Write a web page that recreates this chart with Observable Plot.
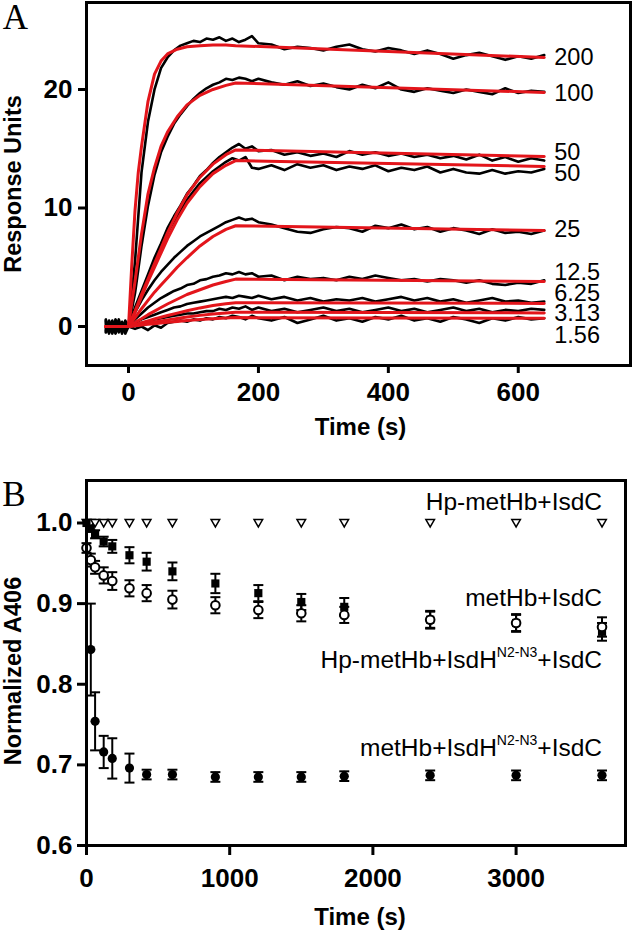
<!DOCTYPE html>
<html><head><meta charset="utf-8">
<script src="https://cdn.jsdelivr.net/npm/d3@7"></script>
<script src="https://cdn.jsdelivr.net/npm/@observablehq/plot@0.6"></script>
<style>
html,body{margin:0;padding:0;background:#fff;}
#chart{width:635px;}
#chart svg{display:block;}
</style></head><body><div id="chart"></div>
<script>
// ---------- Panel A : SPR sensorgrams ----------
const concLabels = ["200","100","50","50","25","12.5","6.25","3.13","1.56"];

const dataTime = [-35,-30,-25,-20,-15,-10,-5,0, 10,20,30,40,50,60,70,80,90,100, 110,120,130,140,150,160,170,180,190,200, 220,240,260,280,300,320,340,360,380,400, 420,440,460,480,500,520,540,560,580,600, 620,640];

const trace200 = [0.5,-0.4,0.3,-0.6,0.2,-0.3,0.4,0.0, 5.5,13.0,17.3,20.0,21.8,22.7,23.3,23.7,23.9,24.1, 24.0,24.3,24.2,24.4,24.1,24.3,24.0,24.2,24.5,23.9, 23.8,23.4,23.6,23.5,23.3,23.6,23.8,23.4,23.2,23.5, 23.3,23.0,23.3,23.0,22.6,22.9,23.1,22.8,22.5,22.8, 22.6,22.9];
const trace100 = [-0.3,0.5,-0.2,0.4,-0.5,0.3,-0.2,0.0, 2.8,6.8,10.2,12.8,14.7,16.0,17.1,17.9,18.6,19.2, 19.7,20.1,20.4,20.6,20.9,20.8,21.0,20.9,20.7,20.9, 20.6,20.4,20.7,20.3,20.5,20.2,20.0,20.4,20.1,20.6, 20.0,19.8,20.1,19.9,19.7,20.0,19.8,19.6,20.1,19.7, 19.9,19.8];
const trace50a = [0.2,-0.5,0.4,-0.3,0.6,-0.4,0.2,0.0, 1.6,3.0,4.4,5.8,7.0,8.3,9.3,10.2,11.2,11.9, 12.7,13.2,13.8,14.3,14.7,15.1,15.4,15.0,15.2,14.8, 14.9,14.5,14.7,14.4,14.6,14.3,14.8,14.5,14.7,14.4, 14.6,14.3,14.5,14.2,14.4,14.1,14.5,14.0,14.3,13.9, 14.2,14.0];
const trace50b = [-0.4,0.3,-0.6,0.5,-0.2,0.4,-0.3,0.0, 1.4,2.8,4.2,5.5,6.7,7.9,8.9,9.8,10.7,11.4, 12.1,12.6,13.1,13.5,13.9,14.2,14.0,14.3,13.4,13.3, 13.6,13.2,13.7,13.4,13.6,13.2,13.5,13.3,13.6,13.1, 13.4,13.2,13.5,13.0,13.3,13.0,12.9,13.2,12.9,13.1, 13.0,13.3];
const trace25 = [0.6,-0.5,0.2,-0.3,0.5,-0.6,0.3,0.0, 1.2,2.2,3.1,3.9,4.6,5.2,5.8,6.3,6.8,7.2, 7.6,7.9,8.2,8.5,8.8,9.0,9.2,9.0,9.1,8.8, 8.6,8.3,8.0,7.9,8.2,8.4,8.3,8.0,8.5,8.3, 8.6,8.2,8.4,8.0,8.3,8.1,7.8,8.2,7.9,8.0, 7.8,8.1];
const trace12 = [-0.2,0.4,-0.5,0.3,-0.4,0.2,-0.6,0.0, 0.6,1.1,1.6,2.0,2.4,2.7,3.0,3.2,3.5,3.6, 3.9,4.0,4.2,4.3,4.5,4.4,4.6,4.4,4.5,4.2, 4.3,3.9,4.2,4.0,4.1,3.9,4.2,4.0,4.3,4.1, 3.9,4.0,3.8,4.0,3.9,3.7,3.9,3.6,3.5,3.7, 3.6,3.9];
const trace6 = [0.3,-0.6,0.4,-0.2,0.2,-0.5,0.5,0.0, 0.3,0.6,0.8,1.0,1.2,1.4,1.6,1.7,1.9,2.0, 2.1,2.2,2.3,2.4,2.5,2.4,2.6,2.5,2.4,2.6, 2.3,2.5,2.2,2.4,2.1,2.3,2.2,2.4,2.1,2.3, 2.5,2.2,2.4,2.1,2.3,2.0,2.2,2.4,2.1,2.2, 2.0,2.1];
const trace3 = [-0.5,0.2,-0.3,0.6,-0.4,0.1,-0.2,0.0, 0.1,0.3,0.4,0.6,0.7,0.8,0.9,1.0,1.1,1.1, 1.2,1.3,1.3,1.5,1.4,1.6,1.5,1.7,1.4,1.6, 1.3,1.5,1.2,1.4,1.6,1.3,1.5,1.2,1.4,1.6, 1.3,1.5,1.2,1.4,1.6,1.3,1.5,1.2,1.4,1.3, 1.5,1.4];
const trace1 = [0.4,-0.3,0.5,-0.5,0.3,-0.2,0.4,0.0, -0.2,0.0,-0.3,0.1,-0.1,0.3,0.4,0.5,0.4,0.6, 0.5,0.7,0.6,0.8,0.7,0.9,0.8,0.6,0.9,0.7, 0.5,0.8,0.3,0.6,0.9,0.5,0.7,0.4,0.8,0.6, 0.9,0.5,0.7,0.4,0.8,0.6,0.3,0.7,0.5,0.8, 0.6,0.7];

const fitTime = [-35, 0, 5, 10, 15, 20, 30, 40, 50, 60, 75, 90, 110, 130, 150, 165, 640];
const fit200 = [0, 0, 5.2, 9.8, 13.0, 15.2, 19.0, 21.3, 22.4, 23.0, 23.4, 23.6, 23.7, 23.75, 23.75, 23.7, 22.7];
const fit100 = [0, 0, 2.0, 3.8, 5.8, 7.8, 11.2, 13.4, 15.2, 16.4, 17.7, 18.7, 19.5, 20.0, 20.35, 20.55, 19.75];
const fit50a = [0, 0, 0.65, 1.3, 2.0, 2.7, 4.0, 5.3, 6.6, 7.9, 9.6, 11.1, 12.6, 13.7, 14.5, 14.9, 14.35];
const fit50b = [0, 0, 0.6, 1.2, 1.85, 2.5, 3.8, 5.0, 6.2, 7.4, 9.0, 10.4, 11.8, 12.9, 13.6, 14.0, 13.5];
const fit25 = [0, 0, 0.37, 0.75, 1.12, 1.5, 2.2, 2.9, 3.5, 4.1, 5.0, 5.8, 6.8, 7.6, 8.2, 8.5, 8.1];
const fit12 = [0, 0, 0.17, 0.33, 0.5, 0.66, 1.0, 1.3, 1.6, 1.9, 2.3, 2.7, 3.1, 3.5, 3.8, 4.0, 3.8];
const fit6 = [0, 0, 0.08, 0.16, 0.24, 0.32, 0.48, 0.63, 0.78, 0.93, 1.13, 1.33, 1.57, 1.77, 1.92, 2.0, 1.95];
const fit3 = [0, 0, 0.05, 0.1, 0.15, 0.19, 0.29, 0.38, 0.47, 0.56, 0.68, 0.8, 0.94, 1.06, 1.15, 1.2, 1.15];
const fit1 = [0, 0, 0.03, 0.06, 0.09, 0.12, 0.18, 0.24, 0.29, 0.35, 0.43, 0.5, 0.59, 0.66, 0.72, 0.75, 0.7];

const xTicksA = [0, 200, 400, 600];
const yTicksA = [0, 10, 20];

// ---------- Panel B : normalized A406 ----------
const timesB = [0, 30, 60, 120, 180, 300, 420, 600, 900, 1200, 1500, 1800, 2400, 3000, 3600];
const hpMetHbIsdC = [1, 1, 1, 1, 1, 1, 1, 1, 1, 1, 1, 1, 1, 1, 1];
const metHbIsdC = [1.0, 0.993, 0.986, 0.977, 0.971, 0.960, 0.952, 0.940, 0.925, 0.913, 0.902, 0.896, 0.880, 0.876, 0.865];
const metHbIsdCErr = [0, 0.004, 0.005, 0.006, 0.008, 0.010, 0.011, 0.011, 0.012, 0.010, 0.010, 0.011, 0.011, 0.011, 0.011];
const hpMetHbIsdHIsdC = [0.969, 0.954, 0.945, 0.935, 0.928, 0.919, 0.913, 0.905, 0.898, 0.892, 0.888, 0.886, 0.880, 0.876, 0.871];
const hpMetHbIsdHIsdCErr = [0.006, 0.008, 0.008, 0.010, 0.011, 0.010, 0.010, 0.011, 0.010, 0.010, 0.010, 0.010, 0.010, 0.010, 0.012];
const metHbIsdHIsdC = [null, 0.843, 0.754, 0.716, 0.708, 0.696, 0.688, 0.688, 0.685, 0.685, 0.685, 0.686, 0.687, 0.687, 0.687];
const metHbIsdHIsdCErr = [null, 0.057, 0.036, 0.020, 0.025, 0.018, 0.006, 0.006, 0.006, 0.006, 0.006, 0.006, 0.006, 0.006, 0.006];
const seriesNamesB = ["Hp-metHb+IsdC", "metHb+IsdC", "Hp-metHb+IsdH^{N2-N3}+IsdC", "metHb+IsdH^{N2-N3}+IsdC"];
const xTicksB = [0, 1000, 2000, 3000];
const yTicksB = [0.6, 0.7, 0.8, 0.9, 1.0];

// ---------- layout / style ----------
const labelNudgeA = [0, 1, -4, 7, -1, -9, -10, 1, 17];   // px offsets of end labels
const labelNudgeB = [-20.5, -34, 33.5, -27];               // px offsets of annotations
const RED = "#e3151b";
const SANS = "'Liberation Sans', Arial, Helvetica, sans-serif";
const SERIF = "'Liberation Serif', 'Times New Roman', serif";

const traceSeries = [trace200, trace100, trace50a, trace50b, trace25, trace12, trace6, trace3, trace1];
const fitSeries = [fit200, fit100, fit50a, fit50b, fit25, fit12, fit6, fit3, fit1];

const traceRows = traceSeries.flatMap((vals, i) => dataTime.map((t, j) => ({id: i, t, v: vals[j]})));
const fitRows = fitSeries.flatMap((vals, i) => fitTime.map((t, j) => ({id: i, t, v: vals[j]})));
const endRows = fitSeries.map((vals, i) => ({t: fitTime[fitTime.length - 1], v: vals[vals.length - 1], label: concLabels[i]}));

const centered = {textAnchor: "middle", lineAnchor: "middle"};

const chartA = Plot.plot({
  width: 635, height: 440,
  marginTop: 2, marginBottom: 75, marginLeft: 86, marginRight: 5,
  style: {fontFamily: SANS, fontSize: "26px", fontWeight: "bold", color: "black", background: "white", overflow: "visible"},
  x: {domain: [-64.7, 772.8]},
  y: {domain: [-3.29, 27.34]},
  marks: [
    Plot.line(traceRows, {x: "t", y: "v", z: "id", stroke: "black", strokeWidth: 2.6, strokeLinejoin: "round"}),
    Plot.line(fitRows, {x: "t", y: "v", z: "id", stroke: RED, strokeWidth: 3}),
    ...endRows.map((r, i) => Plot.text([r], {x: "t", y: "v", text: "label", dx: 10, dy: labelNudgeA[i], textAnchor: "start", lineAnchor: "middle", fontSize: 23.5, fontWeight: "normal"})),
    Plot.frame({stroke: "black", strokeWidth: 3}),
    Plot.axisX({ticks: xTicksA, tickFormat: d => String(d), tickSize: 8, tickPadding: 9, strokeWidth: 3, label: null, fontSize: 26, fontWeight: "bold"}),
    Plot.axisY({ticks: yTicksA, tickFormat: d => String(d), tickSize: 8, tickPadding: 6, strokeWidth: 3, label: null, fontSize: 26, fontWeight: "bold"}),
    Plot.text(["Response Units"], {text: d => d, frameAnchor: "left", ...centered, rotate: -90, dx: -73, fontSize: 23.5, fontWeight: "bold"}),
    Plot.text(["Time (s)"], {text: d => d, frameAnchor: "bottom", ...centered, dx: 2, dy: 62, fontSize: 24, fontWeight: "bold"}),
    Plot.text(["A"], {text: d => d, frameAnchor: "top-left", ...centered, dx: -71, dy: 15, fontFamily: SERIF, fontSize: 35, fontWeight: "normal"})
  ]
});

// Panel B rows
const rowsTri = timesB.map((t, j) => ({t, v: hpMetHbIsdC[j], e: 0}));
const rowsSq = timesB.map((t, j) => ({t, v: metHbIsdC[j], e: metHbIsdCErr[j]}));
const rowsOpen = timesB.map((t, j) => ({t, v: hpMetHbIsdHIsdC[j], e: hpMetHbIsdHIsdCErr[j]}));
const rowsFill = timesB.map((t, j) => ({t, v: metHbIsdHIsdC[j], e: metHbIsdHIsdCErr[j]})).filter(d => d.v != null);
const errRows = [...rowsSq, ...rowsOpen, ...rowsFill].filter(d => d.e > 0);
const lastOf = arr => arr[arr.length - 1];
const annoRows = [lastOf(rowsTri), lastOf(rowsSq), lastOf(rowsOpen), lastOf(rowsFill)].map((r, i) => ({t: r.t, v: r.v, label: seriesNamesB[i]}));

const capSymbol = {draw(ctx) { ctx.moveTo(-5, 0); ctx.lineTo(5, 0); }};
const triDown = {draw(ctx) { ctx.moveTo(-4.3, -3.4); ctx.lineTo(4.3, -3.4); ctx.lineTo(0, 4); ctx.closePath(); }};

const chartB = Plot.plot({
  width: 635, height: 492,
  marginTop: 40, marginBottom: 87, marginLeft: 86, marginRight: 10,
  style: {fontFamily: SANS, fontSize: "26px", fontWeight: "bold", color: "black", background: "white", overflow: "visible"},
  x: {domain: [0, 3764]},
  y: {domain: [0.6, 1.0527]},
  marks: [
    Plot.ruleX(errRows, {x: "t", y1: d => d.v - d.e, y2: d => d.v + d.e, stroke: "black", strokeWidth: 2}),
    Plot.dot(errRows, {x: "t", y: d => d.v + d.e, symbol: capSymbol, fill: "none", stroke: "black", strokeWidth: 2}),
    Plot.dot(errRows, {x: "t", y: d => d.v - d.e, symbol: capSymbol, fill: "none", stroke: "black", strokeWidth: 2}),
    Plot.dot(rowsTri, {x: "t", y: "v", symbol: triDown, fill: "white", stroke: "black", strokeWidth: 1.5}),
    Plot.dot(rowsSq, {x: "t", y: "v", symbol: "square", r: 4.6, fill: "black", stroke: "none"}),
    Plot.dot(rowsOpen, {x: "t", y: "v", symbol: "circle", r: 4.3, fill: "white", stroke: "black", strokeWidth: 2}),
    Plot.dot(rowsFill, {x: "t", y: "v", symbol: "circle", r: 4.6, fill: "black", stroke: "none"}),
    ...annoRows.map((r, i) => Plot.text([r], {x: "t", y: "v", text: "label", dy: labelNudgeB[i], textAnchor: "end", lineAnchor: "middle", fontSize: 24.5, fontWeight: "normal"})),
    Plot.frame({stroke: "black", strokeWidth: 3}),
    Plot.axisX({ticks: xTicksB, tickFormat: d => String(d), tickSize: 10, tickPadding: 13, strokeWidth: 3, label: null, fontSize: 26, fontWeight: "bold"}),
    Plot.axisY({ticks: yTicksB, tickFormat: d3.format(".1f"), tickSize: 9, tickPadding: 5, strokeWidth: 3, label: null, fontSize: 26, fontWeight: "bold"}),
    Plot.text(["Normalized A406"], {text: d => d, frameAnchor: "left", ...centered, rotate: -90, dx: -73, dy: 8, fontSize: 23.5, fontWeight: "bold"}),
    Plot.text(["Time (s)"], {text: d => d, frameAnchor: "bottom", ...centered, dx: 4, dy: 72, fontSize: 24, fontWeight: "bold"}),
    Plot.text(["B"], {text: d => d, frameAnchor: "top-left", ...centered, dx: -72.5, dy: 14.5, fontFamily: SERIF, fontSize: 35, fontWeight: "normal"})
  ]
});

// superscripts "N2-N3"
d3.select(chartB).selectAll("text").each(function () {
  const s = this.textContent;
  const m = s.match(/^(.*)\^\{(.*)\}(.*)$/);
  if (!m) return;
  const el = d3.select(this);
  el.text(null);
  el.append("tspan").text(m[1]);
  el.append("tspan").attr("font-size", 14).attr("dy", -11).text(m[2]);
  el.append("tspan").attr("dy", 11).text(m[3]);
});

const root = document.getElementById("chart");
root.appendChild(chartA);
root.appendChild(chartB);
</script></body></html>
